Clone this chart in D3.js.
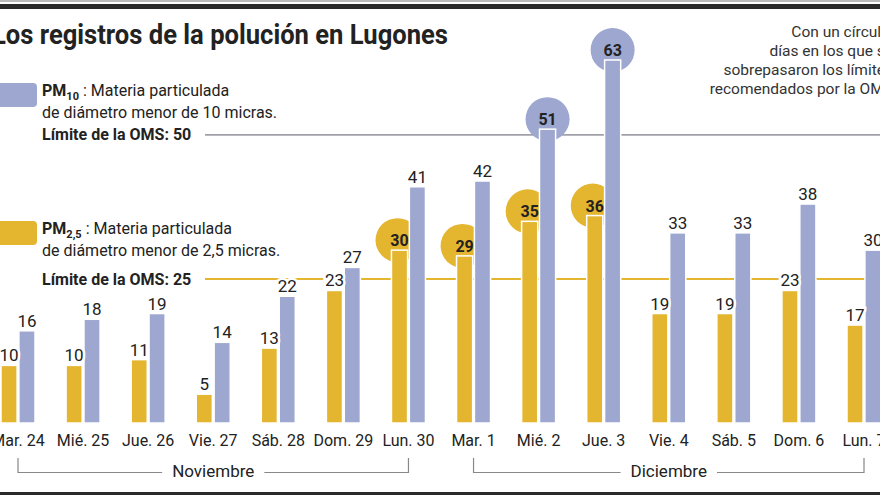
<!DOCTYPE html>
<html><head><meta charset="utf-8">
<script src="https://cdn.jsdelivr.net/npm/d3@7"></script>
<style>
html,body{margin:0;padding:0;background:#fff;overflow:hidden;}
svg{display:block;font-family:Roboto,"Noto Sans",sans-serif;}
</style></head>
<body>
<svg id="chart" width="880" height="495"></svg>
<script>
const categories = ["Mar. 24","Mié. 25","Jue. 26","Vie. 27","Sáb. 28","Dom. 29","Lun. 30","Mar. 1","Mié. 2","Jue. 3","Vie. 4","Sáb. 5","Dom. 6","Lun. 7"];
const pm25 = [10,10,11,5,13,23,30,29,35,36,19,19,23,17];
const pm10 = [16,18,19,14,22,27,41,42,51,63,33,33,38,30];
const limitPM25 = 25;
const limitPM10 = 50;
const months = [
  {name:"Noviembre", from:"Mar. 24", to:"Lun. 30"},
  {name:"Diciembre", from:"Mar. 1", to:"Lun. 7"}
];
const noteLines = ["Con un círculo,","días en los que se","sobrepasaron los límites","recomendados por la OMS"];

const YEL = "#e4b52f", BLU = "#9da7cf", DARK = "#222";
const svg = d3.select("#chart");

const x = d3.scalePoint().domain(categories).range([18, 864]);
const xs = d3.scaleBand().domain(["pm25","pm10"]).range([-17, 17]).paddingInner(0.1);
const y = d3.scaleLinear().domain([0, 63]).range([423, 60]);

// frame lines
svg.append("rect").attr("x",0).attr("y",0).attr("width",880).attr("height",2).attr("fill","#bbb");
svg.append("rect").attr("x",0).attr("y",4).attr("width",880).attr("height",5).attr("fill","#2a2a2a");
svg.append("rect").attr("x",0).attr("y",492).attr("width",880).attr("height",3).attr("fill","#2a2a2a");

// title
svg.append("text").attr("x",-8).attr("y",44).attr("font-size",28).attr("font-weight",700)
  .attr("fill",DARK).attr("textLength",456).attr("lengthAdjust","spacingAndGlyphs")
  .text("Los registros de la polución en Lugones");

// note top right
svg.append("g").selectAll("text").data(noteLines).join("text")
  .attr("x",893).attr("y",(d,i)=>37+i*19).attr("text-anchor","end")
  .attr("font-size",15.5).attr("fill","#333").text(d=>d);

// limit lines
svg.append("line").attr("x1",205).attr("x2",880).attr("y1",y(limitPM10)).attr("y2",y(limitPM10))
  .attr("stroke","#a0a0a8").attr("stroke-width",1.6);
svg.append("line").attr("x1",205).attr("x2",880).attr("y1",y(limitPM25)).attr("y2",y(limitPM25))
  .attr("stroke",YEL).attr("stroke-width",2);

// legend
function legend(top, color, sub, line2){
  const g = svg.append("g");
  g.append("rect").attr("x",-10).attr("y",top).attr("width",47).attr("height",24).attr("rx",4).attr("fill",color);
  const t = g.append("text").attr("x",42).attr("y",top+13).attr("font-size",16).attr("fill",DARK);
  t.append("tspan").attr("font-weight",700).text("PM");
  t.append("tspan").attr("font-weight",700).attr("font-size",11).attr("dy",4).text(sub);
  t.append("tspan").attr("dy",-4).text(" : Materia particulada");
  g.append("text").attr("x",42).attr("y",top+35).attr("font-size",16).attr("fill",DARK).text(line2);
  return g;
}
legend(83, BLU, "10", "de diámetro menor de 10 micras.");
legend(221, YEL, "2,5", "de diámetro menor de 2,5 micras.");
svg.append("text").attr("x",42).attr("y",y(limitPM10)+5).attr("font-size",16).attr("font-weight",700)
  .attr("fill",DARK).text("Límite de la OMS: " + limitPM10);
svg.append("text").attr("x",42).attr("y",y(limitPM25)+6).attr("font-size",16).attr("font-weight",700)
  .attr("fill",DARK).text("Límite de la OMS: " + limitPM25);

const data = categories.map((c,i)=>({c, pm25:pm25[i], pm10:pm10[i]}));
const series = [
  {key:"pm25", color:YEL, limit:limitPM25},
  {key:"pm10", color:BLU, limit:limitPM10}
];
const R = 22;

// circles for exceedances
series.forEach(s=>{
  svg.append("g").selectAll("circle").data(data.filter(d=>d[s.key]>s.limit)).join("circle")
    .attr("cx",d=>x(d.c)+xs(s.key)+xs.bandwidth()/2 - (s.key==="pm25"?2:0))
    .attr("cy",d=>y(d[s.key])-10)
    .attr("r",R).attr("fill",s.color);
});

// bars
series.forEach(s=>{
  svg.append("g").selectAll("rect").data(data).join("rect")
    .attr("x",d=>x(d.c)+xs(s.key))
    .attr("y",d=>y(d[s.key]))
    .attr("width",xs.bandwidth())
    .attr("height",d=>y(0)-y(d[s.key]))
    .attr("fill",s.color).attr("stroke","#fff").attr("stroke-width",1.5);
});

// labels
series.forEach(s=>{
  svg.append("g").selectAll("text").data(data).join("text")
    .attr("x",d=>x(d.c)+xs(s.key)+xs.bandwidth()/2)
    .attr("y",d=> y(d[s.key])-4)
    .attr("text-anchor","middle")
    .attr("font-size",d=> d[s.key]>s.limit ? 16 : 17)
    .attr("font-weight",d=> d[s.key]>s.limit ? 700 : 400)
    .attr("fill",DARK)
    .attr("stroke",d=> d[s.key]>s.limit ? "none" : "#fff")
    .attr("stroke-width",5).attr("paint-order","stroke")
    .text(d=>d[s.key]);
});

// x labels
svg.append("g").selectAll("text").data(categories).join("text")
  .attr("x",d=>x(d)).attr("y",446).attr("text-anchor","middle")
  .attr("font-size",16).attr("fill",DARK).text(d=>d);

// month brackets
months.forEach(m=>{
  const x1 = x(m.from), x2 = x(m.to), xm = (x1+x2)/2;
  const g = svg.append("g");
  const t = g.append("text").attr("x",xm).attr("y",477).attr("text-anchor","middle").attr("font-size",17)
    .attr("fill",DARK).text(m.name);
  const w = t.node().getComputedTextLength()/2 + 10;
  g.append("path").attr("d",`M${x1},458V472.5H${xm-w}M${xm+w},472.5H${x2}V458`).attr("fill","none")
    .attr("stroke","#888").attr("stroke-width",1.2);
});
</script>
</body></html>
